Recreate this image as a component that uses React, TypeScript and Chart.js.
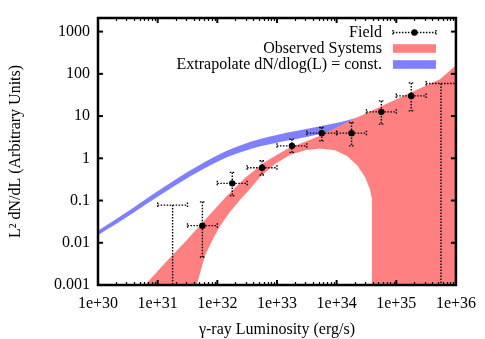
import React, { useEffect, useRef } from "react";
import { Chart, registerables } from "chart.js";

Chart.register(...registerables);

// ---------- axis ticks ----------
const xTickValues = [1e30, 1e31, 1e32, 1e33, 1e34, 1e35, 1e36];
const xTickLabels = ["1e+30", "1e+31", "1e+32", "1e+33", "1e+34", "1e+35", "1e+36"];
const yTickValues = [0.001, 0.01, 0.1, 1, 10, 100, 1000];
const yTickLabels = ["0.001", "0.01", "0.1", "1", "10", "100", "1000"];

// ---------- Field points (binned, with error bars) ----------
const fieldL = [1.78e31, 5.62e31, 1.78e32, 5.62e32, 1.78e33, 5.62e33, 1.78e34, 5.62e34, 1.78e35, 5.62e35];
const fieldLLow = [1e31, 3.16e31, 1e32, 3.16e32, 1e33, 3.16e33, 1e34, 3.16e34, 1e35, 3.16e35];
const fieldLHigh = [3.16e31, 1e32, 3.16e32, 1e33, 3.16e33, 1e34, 3.16e34, 1e35, 3.16e35, 1e36];
const fieldV = [0.078, 0.0254, 0.255, 0.596, 1.97, 3.94, 3.94, 12.6, 30, 59];
const fieldVLow = [0, 0.0046, 0.13, 0.401, 1.38, 2.59, 1.97, 6.45, 13.3, 0];
const fieldVHigh = [0.078, 0.093, 0.464, 0.873, 2.84, 5.37, 7.06, 22.9, 61, 59];
const fieldUpperLimit = [true, false, false, false, false, false, false, false, false, true];

// ---------- Extrapolate dN/dlog(L) = const. (blue band) ----------
const blueL = [1e30, 3.44e30, 1.09e31, 3.48e31, 1.11e32, 3.52e32, 1.12e33, 3.57e33, 1.14e34, 3.61e34];
const blueUpper = [0.0192, 0.0596, 0.179, 0.512, 1.27, 2.44, 3.73, 5.18, 7.18, 9.95];
const blueLower = [0.01505, 0.0454, 0.1326, 0.37, 0.892, 1.63, 2.42, 3.35, 4.65, 6.44];

// ---------- Observed Systems (red band) ----------
const redUpperL = [4.68e30, 6.14e30, 1.33e31, 2.87e31, 6.21e31, 1.34e32, 2.91e32, 6.3e32, 1.47e33, 5.25e33, 1.67e34, 4.39e34, 1.51e35, 5.4e35, 1e36];
const redUpperV = [0.00072, 0.001, 0.00333, 0.0104, 0.0346, 0.1146, 0.34, 0.813, 1.65, 3.4, 7.7, 14.6, 33, 74.5, 160];
const redLowerL = [4.23e31, 6.21e31, 8.45e31, 1.11e32, 1.63e32, 2.4e32, 3.52e32, 5.19e32, 9.25e32, 1.65e33, 2.94e33, 5.25e33, 9.38e33, 1.49e34, 2.19e34, 2.99e34, 3.61e34, 3.91e34, 3.91e34];
const redLowerV = [0.00072, 0.00495, 0.0123, 0.0249, 0.0535, 0.1028, 0.187, 0.36, 0.729, 1.19, 1.56, 1.7, 1.56, 1.13, 0.69, 0.36, 0.187, 0.108, 0.00072];
const belowAxis = 0.00072;

const RED = "rgb(255,128,128)";
const BLUE = "rgb(128,128,255)";
const FONT = { family: "'Liberation Serif', 'Times New Roman', serif", size: 16 };

const bluePoly = [
  ...blueL.map((x, i) => ({ x, y: blueUpper[i] })),
  ...blueL.map((x, i) => ({ x, y: blueLower[i] })).reverse(),
];

const redPoly = [
  ...redUpperL.map((x, i) => ({ x, y: redUpperV[i] })),
  { x: redUpperL[redUpperL.length - 1], y: belowAxis },
  ...redLowerL.map((x, i) => ({ x, y: redLowerV[i] })).reverse(),
];

function drawSeg(ctx: CanvasRenderingContext2D, x1: number, y1: number, x2: number, y2: number) {
  ctx.beginPath();
  ctx.moveTo(x1, y1);
  ctx.lineTo(x2, y2);
  ctx.stroke();
}

const errorBarPlugin = {
  id: "errorBars",
  afterDatasetsDraw(chart: any) {
    const { ctx, chartArea: a, scales } = chart;
    const xs = scales.x, ys = scales.y;
    const c = 2.5;
    ctx.save();
    ctx.beginPath();
    ctx.rect(a.left, a.top, a.right - a.left, a.bottom - a.top);
    ctx.clip();
    ctx.strokeStyle = "#000";
    ctx.lineWidth = 1.4;
    ctx.setLineDash([1.5, 1.5]);
    for (let i = 0; i < fieldL.length; i++) {
      const px = xs.getPixelForValue(fieldL[i]);
      const py = ys.getPixelForValue(fieldV[i]);
      const xl = xs.getPixelForValue(fieldLLow[i]);
      const xh = xs.getPixelForValue(fieldLHigh[i]);
      drawSeg(ctx, xl, py, xh, py);
      drawSeg(ctx, xl, py - c, xl, py + c);
      drawSeg(ctx, xh, py - c, xh, py + c);
      if (fieldUpperLimit[i]) {
        drawSeg(ctx, px, py, px, a.bottom + 2);
      } else {
        const yl = ys.getPixelForValue(fieldVLow[i]);
        const yh = ys.getPixelForValue(fieldVHigh[i]);
        drawSeg(ctx, px, yh, px, yl);
        drawSeg(ctx, px - c, yh, px + c, yh);
        drawSeg(ctx, px - c, yl, px + c, yl);
      }
    }
    ctx.restore();
  },
};

const framePlugin = {
  id: "frame",
  afterDraw(chart: any) {
    const { ctx, chartArea: a, scales } = chart;
    const xs = scales.x, ys = scales.y;
    ctx.save();
    ctx.strokeStyle = "#000";
    ctx.setLineDash([]);
    // minor x ticks
    ctx.lineWidth = 1.2;
    for (let e = 30; e < 36; e++) {
      for (let k = 2; k <= 9; k++) {
        const px = Math.round(xs.getPixelForValue(k * Math.pow(10, e))) + 0.5;
        drawSeg(ctx, px, a.bottom, px, a.bottom - 3);
        drawSeg(ctx, px, a.top, px, a.top + 3);
      }
    }
    // major ticks
    ctx.lineWidth = 2;
    xTickValues.forEach((v) => {
      const px = xs.getPixelForValue(v);
      drawSeg(ctx, px, a.bottom, px, a.bottom - 5);
      drawSeg(ctx, px, a.top, px, a.top + 5);
    });
    yTickValues.forEach((v) => {
      const py = ys.getPixelForValue(v);
      drawSeg(ctx, a.left, py, a.left + 5, py);
      drawSeg(ctx, a.right, py, a.right - 5, py);
    });
    // frame
    ctx.lineWidth = 2.5;
    ctx.strokeRect(a.left, a.top, a.right - a.left, a.bottom - a.top);

    // legend
    const ds = chart.data.datasets;
    const items = [
      { label: ds[2].label, kind: "err" },
      { label: ds[1].label, kind: "box", color: RED },
      { label: ds[0].label, kind: "box", color: BLUE },
    ];
    ctx.font = `${FONT.size}px ${FONT.family}`;
    ctx.textAlign = "right";
    ctx.textBaseline = "middle";
    const textRight = a.right - 74;
    const sL = a.right - 63;
    const sR = a.right - 20;
    items.forEach((it, i) => {
      const y = a.top + 14.5 + i * 16;
      ctx.fillStyle = "#000";
      ctx.fillText(it.label, textRight, y);
      if (it.kind === "box") {
        ctx.fillStyle = it.color as string;
        ctx.fillRect(sL, y - 4.3, sR - sL, 8.6);
      } else {
        ctx.lineWidth = 1.4;
        ctx.setLineDash([1.5, 1.5]);
        drawSeg(ctx, sL, y, sR, y);
        drawSeg(ctx, sL, y - 2.5, sL, y + 2.5);
        drawSeg(ctx, sR, y - 2.5, sR, y + 2.5);
        ctx.setLineDash([]);
        ctx.beginPath();
        ctx.arc((sL + sR) / 2, y, 3.2, 0, Math.PI * 2);
        ctx.fill();
      }
    });
    ctx.restore();
  },
};

export default function App() {
  const ref = useRef<HTMLCanvasElement | null>(null);
  useEffect(() => {
    if (!ref.current) return;
    const chart = new Chart(ref.current, {
      type: "scatter",
      data: {
        datasets: [
          {
            label: "Extrapolate dN/dlog(L) = const.",
            data: bluePoly,
            showLine: true,
            fill: "shape",
            backgroundColor: BLUE,
            borderColor: BLUE,
            borderWidth: 0,
            pointRadius: 0,
            tension: 0.35,
            order: 3,
          } as any,
          {
            label: "Observed Systems",
            data: redPoly,
            showLine: true,
            fill: "shape",
            backgroundColor: RED,
            borderColor: RED,
            borderWidth: 0,
            pointRadius: 0,
            tension: 0,
            order: 2,
          } as any,
          {
            label: "Field",
            data: fieldL.map((x, i) => ({ x, y: fieldV[i] })),
            showLine: false,
            backgroundColor: "#000",
            borderColor: "#000",
            pointRadius: fieldUpperLimit.map((u) => (u ? 0 : 3.2)),
            borderWidth: 0,
            order: 1,
          } as any,
        ],
      },
      options: {
        animation: false,
        responsive: false,
        devicePixelRatio: 1,
        layout: { padding: { left: 0, right: 29, top: 18, bottom: 0 } },
        plugins: { legend: { display: false }, tooltip: { enabled: false } },
        scales: {
          x: {
            type: "logarithmic",
            position: "bottom",
            min: 1e30,
            max: 1e36,
            grid: { display: false, drawTicks: false },
            border: { display: false },
            ticks: {
              font: FONT,
              color: "#000",
              padding: 9,
              autoSkip: false,
              maxRotation: 0,
              callback: (_v: any, i: number) => xTickLabels[i],
            },
            afterBuildTicks: (s: any) => {
              s.ticks = xTickValues.map((value) => ({ value }));
            },
            afterFit: (s: any) => {
              s.height = 54;
            },
            title: {
              display: true,
              text: "γ-ray Luminosity (erg/s)",
              font: FONT,
              color: "#000",
              padding: { top: 0, bottom: 0 },
            },
          },
          y: {
            type: "logarithmic",
            position: "left",
            min: 0.001,
            max: 2100,
            grid: { display: false, drawTicks: false },
            border: { display: false },
            ticks: {
              font: FONT,
              color: "#000",
              padding: 8,
              autoSkip: false,
              callback: (_v: any, i: number) => yTickLabels[i],
            },
            afterBuildTicks: (s: any) => {
              s.ticks = yTickValues.map((value) => ({ value }));
            },
            afterFit: (s: any) => {
              s.width = 98;
            },
            title: {
              display: true,
              text: "L² dN/dL (Arbitrary Units)",
              font: FONT,
              color: "#000",
              padding: { top: 6, bottom: 0 },
            },
          },
        },
      } as any,
      plugins: [errorBarPlugin, framePlugin],
    });
    return () => chart.destroy();
  }, []);
  return (
    <div style={{ position: "fixed", left: 0, top: 0, width: 485, height: 339, background: "#fff" }}>
      <canvas ref={ref} width={485} height={339} style={{ display: "block" }} />
    </div>
  );
}
